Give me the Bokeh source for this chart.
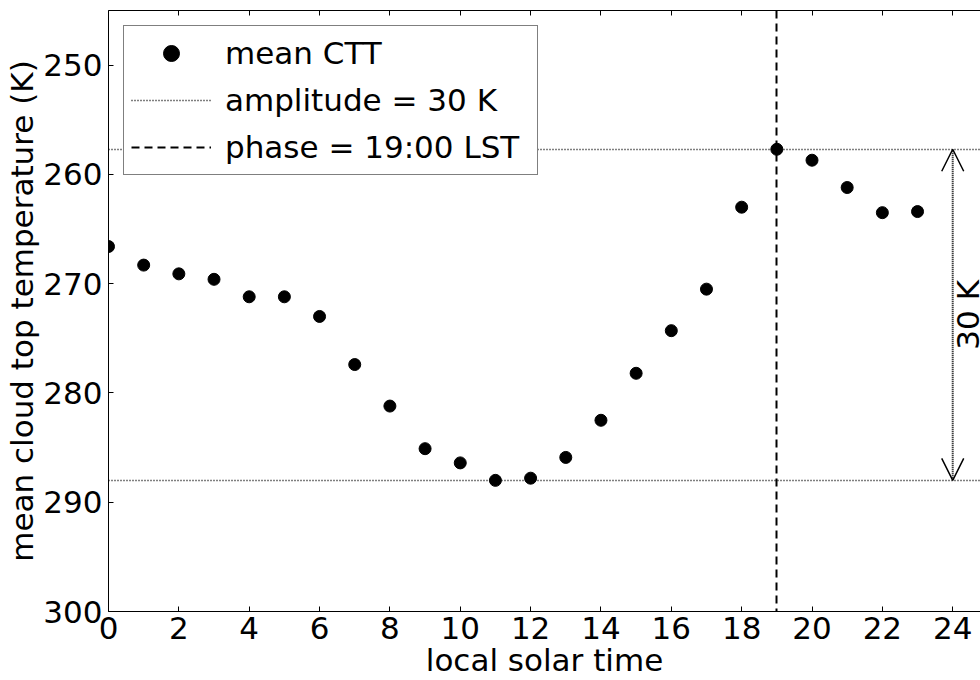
import math
from bokeh.plotting import figure
from bokeh.models import (Range1d, LinearAxis, SingleIntervalTicker, Arrow, OpenHead,
                          Legend, LegendItem, CustomJSTickFormatter)
from bokeh.core.properties import value
from bokeh.embed import file_html
from bokeh.resources import INLINE

# ---- data ----
hours = list(range(24))
mean_ctt = [266.6, 268.3, 269.1, 269.6, 271.2, 271.2, 273.0, 277.4, 281.2, 285.1,
            286.4, 288.0, 287.8, 285.9, 282.5, 278.2, 274.3, 270.5, 263.0, 257.7,
            258.7, 261.2, 263.5, 263.4]

t_warm = max(mean_ctt)
t_cold = min(mean_ctt)
amplitude = round(t_warm - t_cold)
phase_hour = hours[mean_ctt.index(t_cold)]
arrow_x = 24

FONT = "DejaVu Sans"
FS = "31px"

p = figure(width=980, height=680, output_backend="svg", toolbar_location=None,
           x_range=Range1d(0, 24.79), y_range=Range1d(300, 245),
           x_axis_location=None, y_axis_location=None,
           min_border_left=108, min_border_right=0, min_border_top=10, min_border_bottom=0)
p.outline_line_color = None
p.xgrid.visible = False
p.ygrid.visible = False
p.background_fill_color = "white"
p.border_fill_color = "white"

def style_axis(ax, labels=True):
    ax.axis_line_color = "black"
    ax.axis_line_width = 1
    ax.major_tick_in = 5
    ax.major_tick_out = 0
    ax.major_tick_line_color = "black"
    ax.minor_tick_line_color = None
    ax.major_label_text_font = FONT
    ax.major_label_text_color = "black"
    if labels:
        ax.major_label_text_font_size = FS
    else:
        ax.formatter = CustomJSTickFormatter(code="return ''")
        ax.major_label_text_font_size = "0px"
        ax.major_label_standoff = 0

xax = LinearAxis(ticker=SingleIntervalTicker(interval=2), axis_label="local solar time")
style_axis(xax)
xax.major_label_standoff = 1
xax.axis_label_standoff = 0
xax.axis_label_text_font = FONT
xax.axis_label_text_font_size = FS
xax.axis_label_text_font_style = "normal"
xax.axis_label_text_color = "black"
p.add_layout(xax, "below")

yax = LinearAxis(ticker=SingleIntervalTicker(interval=10),
                 axis_label="mean cloud top temperature (K)")
style_axis(yax)
yax.major_label_standoff = 2
yax.axis_label_standoff = 0
yax.axis_label_text_font = FONT
yax.axis_label_text_font_size = FS
yax.axis_label_text_font_style = "normal"
yax.axis_label_text_color = "black"
p.add_layout(yax, "left")

tax = LinearAxis(ticker=SingleIntervalTicker(interval=2))
style_axis(tax, labels=False)
p.add_layout(tax, "above")

# reference lines
p.hspan(y=[t_cold, t_warm], line_color="black", line_width=1.5, line_dash="1 2")
p.vspan(x=[phase_hour], line_color="black", line_width=2, line_dash="8 5")

# data points
pts = p.scatter(hours, mean_ctt, size=12, color="black", marker="circle")

# amplitude arrow
p.add_layout(Arrow(x_start=arrow_x, y_start=t_cold, x_end=arrow_x, y_end=t_warm,
                   line_color="black", line_width=2, line_dash="1 1",
                   start=OpenHead(size=22, line_width=1.5, line_color="black"),
                   end=OpenHead(size=22, line_width=1.5, line_color="black")))
p.text(x=[arrow_x], y=[(t_cold + t_warm) / 2], text=[f"{amplitude} K"],
       angle=math.pi / 2, text_align="center", text_baseline="top", x_offset=-3,
       text_font=value(FONT), text_font_size=FS, text_color="black")

# legend proxies (one NaN point each so the legend draws their sample)
nan = float("nan")
leg_dot = p.line(x=[nan], y=[nan], line_color="black", line_width=1.5, line_dash="1 2")
leg_dash = p.line(x=[nan], y=[nan], line_color="black", line_width=2, line_dash="8 5")

legend = Legend(items=[
    LegendItem(label="mean CTT", renderers=[pts]),
    LegendItem(label=f"amplitude = {amplitude} K", renderers=[leg_dot]),
    LegendItem(label=f"phase = {phase_hour}:00 LST", renderers=[leg_dash]),
], location="top_left")
legend.margin = 15
legend.padding = 7
legend.spacing = 7
legend.label_height = 40
legend.label_width = 305
legend.glyph_height = 40
legend.glyph_width = 80
legend.label_standoff = 14
legend.label_text_font = FONT
legend.label_text_font_size = FS
legend.label_text_color = "black"
legend.border_line_color = "black"
legend.border_line_width = 1
legend.background_fill_color = "white"
legend.background_fill_alpha = 1
p.add_layout(legend, "center")

open("out.html", "w").write(file_html(p, INLINE))
